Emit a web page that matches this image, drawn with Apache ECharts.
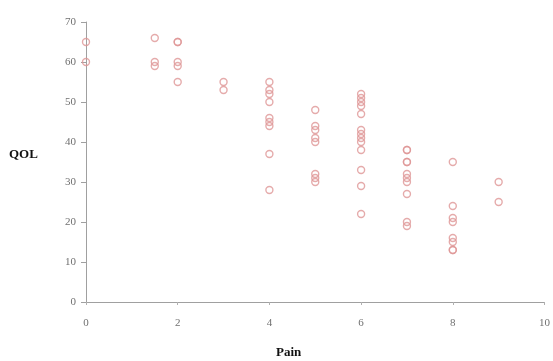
<!DOCTYPE html>
<html><head><meta charset="utf-8">
<script src="https://cdn.jsdelivr.net/npm/echarts@6/dist/echarts.min.js"></script>
<style>html,body{margin:0;padding:0;background:#fff}#c{width:553px;height:361px}</style>
</head><body><div id="c"></div>
<script>
const painValues = [0,0, 1.5,1.5,1.5, 2,2,2,2,2, 3,3,
  4,4,4,4,4,4,4,4,4,
  5,5,5,5,5,5,5,5,
  6,6,6,6,6,6,6,6,6,6,6,6,6,
  7,7,7,7,7,7,7,7,7,7,
  8,8,8,8,8,8,8,8,
  9,9];
const qolValues = [65,60, 66,60,59, 65,65,60,59,55, 55,53,
  55,53,52,50,46,45,44,37,28,
  48,44,43,41,40,32,31,30,
  52,51,50,49,47,43,42,41,40,38,33,29,22,
  38,38,35,35,32,31,30,27,20,19,
  35,24,21,20,16,15,13,13,
  30,25];
const xTicks = [0,2,4,6,8,10];
const yTicks = [0,10,20,30,40,50,60,70];
const xTitle = 'Pain';
const yTitle = 'QOL';

const points = painValues.map((p, i) => [p, qolValues[i]]);
const chart = echarts.init(document.getElementById('c'));
const labelFont = {color: '#707070', fontFamily: 'Liberation Serif', fontSize: 11};
chart.setOption({
  animation: false,
  grid: {left: 86, right: 3, top: 22, bottom: 59},
  xAxis: {
    type: 'value', min: xTicks[0], max: xTicks[xTicks.length-1], interval: 2,
    axisLine: {lineStyle: {color: '#a0a0a0'}},
    axisTick: {show: true, length: 3, lineStyle: {color: '#b0b0b0'}},
    splitLine: {show: false},
    axisLabel: Object.assign({margin: 16}, labelFont)
  },
  yAxis: {
    type: 'value', min: yTicks[0], max: yTicks[yTicks.length-1], interval: 10,
    axisLine: {show: true, lineStyle: {color: '#a0a0a0'}},
    axisTick: {show: true, length: 5, lineStyle: {color: '#a0a0a0'}},
    splitLine: {show: false},
    axisLabel: Object.assign({margin: 10}, labelFont)
  },
  graphic: [
    {type: 'text', left: 9, top: 148, style: {text: yTitle, fontFamily: 'Liberation Serif', fontWeight: 'bold', fontSize: 13, fill: '#111'}},
    {type: 'text', left: 276, top: 346, style: {text: xTitle, fontFamily: 'Liberation Serif', fontWeight: 'bold', fontSize: 13, fill: '#111'}}
  ],
  series: [{
    type: 'scatter',
    data: points,
    symbol: 'circle',
    symbolSize: 7,
    itemStyle: {color: 'rgba(255,255,255,0)', borderColor: '#de9696', borderWidth: 1.4}
  }]
});
</script></body></html>
